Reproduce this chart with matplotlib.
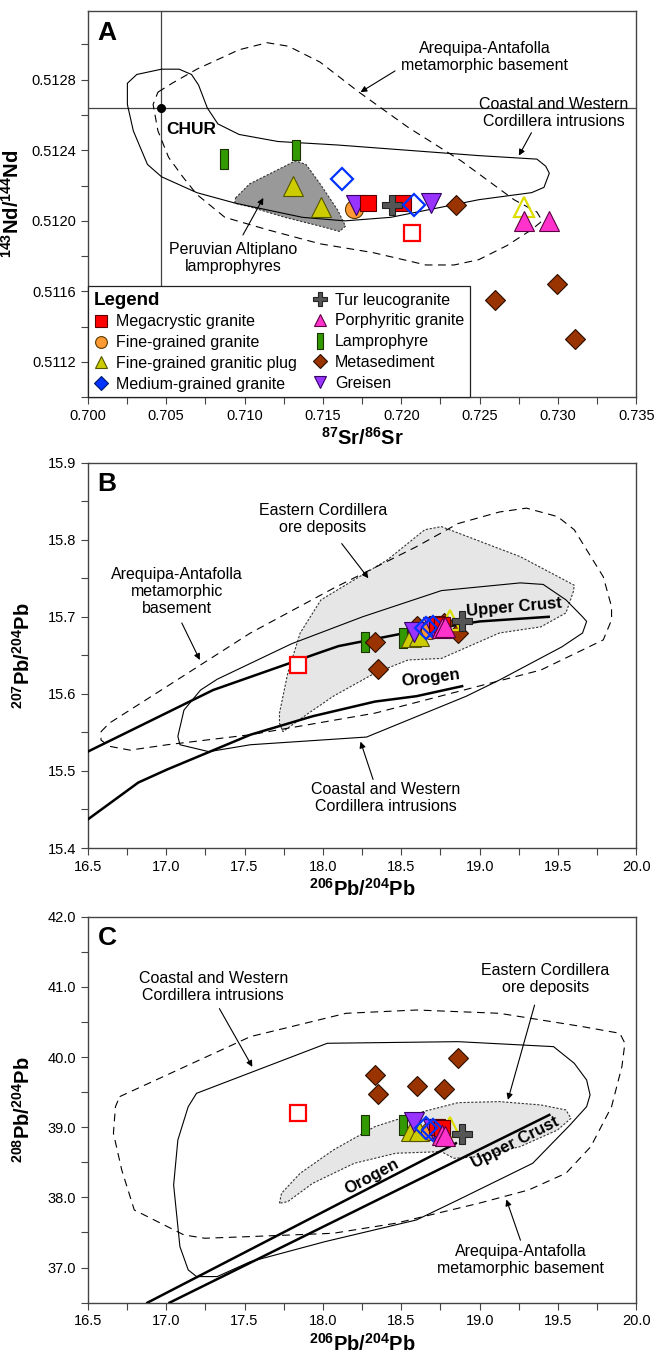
import matplotlib
matplotlib.use('Agg')
import matplotlib.pyplot as plt
from matplotlib.lines import Line2D
from matplotlib.patches import Polygon
import matplotlib.transforms as mtransforms
from matplotlib.ticker import MultipleLocator, FormatStrFormatter

plt.rcParams['font.family'] = ['Liberation Sans', 'DejaVu Sans']
plt.rcParams['mathtext.fontset'] = 'custom'
plt.rcParams['mathtext.rm'] = 'Liberation Sans'
plt.rcParams['mathtext.bf'] = 'Liberation Sans:bold'
plt.rcParams['mathtext.it'] = 'Liberation Sans:italic'

# ---- sample data (Sr-Nd and Pb isotopes) ----
mega_sr = [0.7179, 0.7201]
mega_nd = [0.51210, 0.51210]
mega_206 = [18.73, 18.76]
mega_207 = [15.691, 15.690]
mega_208 = [39.01, 38.99]

megaopen_sr = [0.7207]
megaopen_nd = [0.51193]
megaopen_206 = [17.84]
megaopen_207 = [15.638]
megaopen_208 = [39.20]

fine_sr = [0.7170]
fine_nd = [0.51207]
fine_206 = [18.68]
fine_207 = [15.683]
fine_208 = [38.94]

plug_sr = [0.7131, 0.7149]
plug_nd = [0.51220, 0.51208]
plug_206 = [18.56, 18.61]
plug_207 = [15.674, 15.675]
plug_208 = [38.94, 38.94]

plugopen_sr = [0.7278]
plugopen_nd = [0.51208]
plugopen_206 = [18.81]
plugopen_207 = [15.696]
plugopen_208 = [39.01]

medium_sr = [0.7162, 0.7208]
medium_nd = [0.51224, 0.51209]
medium_206 = [18.66, 18.70]
medium_207 = [15.685, 15.687]
medium_208 = [38.99, 38.96]

tur_sr = [0.7194]
tur_nd = [0.51209]
tur_206 = [18.89]
tur_207 = [15.694]
tur_208 = [38.90]

porph_sr = [0.7278, 0.7294]
porph_nd = [0.51200, 0.51200]
porph_206 = [18.76, 18.78]
porph_207 = [15.685, 15.687]
porph_208 = [38.89, 38.87]

lamp_sr = [0.7087, 0.7133]
lamp_nd = [0.51235, 0.51240]
lamp_206 = [18.27, 18.51]
lamp_207 = [15.667, 15.672]
lamp_208 = [39.03, 39.03]

meta_sr = [0.7235, 0.7260, 0.7299, 0.7311]
meta_nd = [0.51209, 0.51155, 0.51164, 0.51133]
meta_206 = [18.33, 18.35, 18.60, 18.77, 18.86]
meta_207 = [15.667, 15.632, 15.688, 15.692, 15.679]
meta_208 = [39.74, 39.48, 39.59, 39.54, 39.98]

greisen_sr = [0.7171, 0.7219]
greisen_nd = [0.51209, 0.51210]
greisen_206 = [18.58, 18.70]
greisen_207 = [15.680, 15.687]
greisen_208 = [39.07, 38.97]

chur_sr = 0.7047
chur_nd = 0.51264

# ---- field outlines ----
coastA_x = [0.70253, 0.70313, 0.70471, 0.70583, 0.70662, 0.70707, 0.70763, 0.70830, 0.70965, 0.71213,
            0.71595, 0.72044, 0.72494, 0.72865, 0.72921, 0.72944, 0.72910, 0.72831, 0.72494, 0.72157,
            0.71932, 0.71640, 0.71370, 0.70943, 0.70696, 0.70471, 0.70381, 0.70291, 0.70253]
coastA_y = [0.51278, 0.51283, 0.51286, 0.51286, 0.51283, 0.51277, 0.51264, 0.51255, 0.51249, 0.51245,
            0.51243, 0.51240, 0.51237, 0.51235, 0.51231, 0.51227, 0.51219, 0.51216, 0.51212, 0.51206,
            0.51202, 0.51200, 0.51202, 0.51210, 0.51216, 0.51225, 0.51232, 0.51251, 0.51266]
areqA_x = [0.70448, 0.70538, 0.70696, 0.70965, 0.71145, 0.71280, 0.71482, 0.71730, 0.72044, 0.72382,
           0.72719, 0.72865, 0.72899, 0.72831, 0.72674, 0.72494, 0.72337, 0.72157, 0.71820, 0.71482,
           0.71145, 0.70875, 0.70696, 0.70606, 0.70516, 0.70448, 0.70417]
areqA_y = [0.51273, 0.51278, 0.51286, 0.51297, 0.51301, 0.51299, 0.51290, 0.51273, 0.51253, 0.51234,
           0.51212, 0.51205, 0.51200, 0.51195, 0.51186, 0.51178, 0.51175, 0.51175, 0.51182, 0.51187,
           0.51195, 0.51202, 0.51215, 0.51225, 0.51236, 0.51251, 0.51266]
altiA_x = [0.70943, 0.71033, 0.71190, 0.71325, 0.71392, 0.71482, 0.71595, 0.71644, 0.71606, 0.71482,
           0.71258, 0.71033, 0.70938]
altiA_y = [0.51213, 0.51221, 0.51228, 0.51234, 0.51232, 0.51221, 0.51206, 0.51197, 0.51194, 0.51197,
           0.51202, 0.51208, 0.51210]

coastB_x = [17.326, 17.80, 18.253, 18.756, 19.259, 19.405, 19.550, 19.656, 19.682, 19.656, 19.524,
            19.126, 18.915, 18.279, 17.538, 17.273, 17.088, 17.075, 17.114, 17.220]
coastB_y = [15.619, 15.665, 15.700, 15.734, 15.744, 15.742, 15.722, 15.700, 15.694, 15.679, 15.661,
            15.618, 15.597, 15.544, 15.534, 15.525, 15.534, 15.545, 15.579, 15.605]
areqB_x = [16.585, 16.638, 17.008, 17.538, 18.067, 18.597, 18.862, 19.126, 19.298, 19.497, 19.603,
           19.788, 19.841, 19.841, 19.788, 19.391, 18.994, 18.332, 17.538, 17.008, 16.770, 16.638, 16.585]
areqB_y = [15.551, 15.562, 15.610, 15.679, 15.737, 15.791, 15.821, 15.836, 15.841, 15.830, 15.813,
           15.752, 15.713, 15.696, 15.670, 15.631, 15.610, 15.575, 15.547, 15.534, 15.527, 15.532, 15.540]
eastB_x = [17.723, 17.745, 17.909, 18.067, 18.332, 18.544, 18.756, 19.126, 19.391, 19.550, 19.598,
           19.603, 19.259, 18.756, 18.650, 18.412, 17.988, 17.855, 17.776, 17.723]
eastB_y = [15.562, 15.551, 15.575, 15.597, 15.627, 15.644, 15.646, 15.679, 15.687, 15.705, 15.733,
           15.741, 15.778, 15.817, 15.813, 15.774, 15.722, 15.679, 15.627, 15.575]
crustB_x = [16.5, 17.3, 18.0, 18.1, 18.5, 19.0, 19.44]
crustB_y = [15.525, 15.605, 15.655, 15.662, 15.678, 15.694, 15.700]
orogB_x = [16.5, 16.823, 17.008, 17.538, 17.935, 18.332, 18.597, 18.888]
orogB_y = [15.437, 15.485, 15.502, 15.547, 15.571, 15.590, 15.597, 15.610]

coastC_x = [17.194, 18.028, 18.862, 19.471, 19.603, 19.682, 19.704, 19.682, 19.576, 19.338, 18.862,
            18.597, 18.014, 17.538, 17.326, 17.194, 17.141, 17.088, 17.048, 17.075, 17.141]
coastC_y = [39.483, 40.196, 40.219, 40.148, 39.911, 39.673, 39.460, 39.293, 39.032, 38.486, 37.964,
            37.679, 37.370, 37.085, 36.872, 36.872, 36.967, 37.299, 38.177, 38.819, 39.293]
areqC_x = [16.704, 17.538, 18.147, 18.597, 19.126, 19.656, 19.894, 19.926, 19.907, 19.841, 19.709,
           19.550, 19.312, 18.994, 18.465, 18.067, 17.538, 17.247, 17.114, 16.797, 16.717, 16.664, 16.677]
areqC_y = [39.436, 40.291, 40.623, 40.670, 40.623, 40.433, 40.338, 40.196, 39.863, 39.293, 38.724,
           38.344, 38.106, 37.916, 37.632, 37.489, 37.442, 37.418, 37.465, 37.821, 38.391, 38.914, 39.293]
eastC_x = [17.723, 17.736, 17.855, 18.067, 18.332, 18.597, 18.862, 19.126, 19.391, 19.550, 19.582,
           19.497, 19.259, 18.994, 18.835, 18.756, 18.465, 18.200, 17.935, 17.776]
eastC_y = [37.916, 38.059, 38.344, 38.676, 39.009, 39.198, 39.350, 39.365, 39.317, 39.246, 39.127,
           38.961, 38.724, 38.581, 38.557, 38.652, 38.629, 38.486, 38.201, 37.940]
crustC_x = [17.022, 19.444]
crustC_y = [36.5, 39.175]
orogC_x = [16.881, 18.848]
orogC_y = [36.5, 38.771]

# ---- styles ----
bar = [(-0.18, -0.5), (0.18, -0.5), (0.18, 0.5), (-0.18, 0.5), (-0.18, -0.5)]
st_lamp = dict(marker=bar, ms=15, mfc='#339900', mec='#1a3300', mew=0.8)
st_meta = dict(marker='D', ms=10.5, mfc='#993300', mec='#2b0e00', mew=0.8)
st_plug = dict(marker='^', ms=14, mfc='#cccc00', mec='#555500', mew=0.8)
st_plugopen = dict(marker='^', ms=14, mfc='none', mec='#dddd00', mew=1.6)
st_fine = dict(marker='o', ms=13, mfc='#ff9933', mec='#5a3a00', mew=0.8)
st_greisen = dict(marker='v', ms=14, mfc='#9933ff', mec='#330066', mew=0.8)
st_mega = dict(marker='s', ms=11, mfc='#ff0000', mec='#5a0000', mew=0.8)
st_megaopen = dict(marker='s', ms=11, mfc='white', mec='#ff0000', mew=1.6)
st_tur = dict(marker='P', ms=15, mfc='#555555', mec='#222222', mew=0.8)
st_medium = dict(marker='D', ms=11.5, mfc='none', mec='#0033ff', mew=1.6)
st_porph = dict(marker='^', ms=14, mfc='#ff33cc', mec='#5a0040', mew=0.8)

groups = [
    (lamp_sr, lamp_nd, lamp_206, lamp_207, lamp_208, st_lamp),
    (meta_sr, meta_nd, meta_206, meta_207, meta_208, st_meta),
    (plug_sr, plug_nd, plug_206, plug_207, plug_208, st_plug),
    (plugopen_sr, plugopen_nd, plugopen_206, plugopen_207, plugopen_208, st_plugopen),
    (fine_sr, fine_nd, fine_206, fine_207, fine_208, st_fine),
    (greisen_sr, greisen_nd, greisen_206, greisen_207, greisen_208, st_greisen),
    (mega_sr, mega_nd, mega_206, mega_207, mega_208, st_mega),
    (megaopen_sr, megaopen_nd, megaopen_206, megaopen_207, megaopen_208, st_megaopen),
    (tur_sr, tur_nd, tur_206, tur_207, tur_208, st_tur),
    (medium_sr, medium_nd, medium_206, medium_207, medium_208, st_medium),
    (porph_sr, porph_nd, porph_206, porph_207, porph_208, st_porph),
]

FS = 11.5
ARROW = dict(arrowstyle='-|>', color='black', lw=0.8, mutation_scale=9, shrinkA=0, shrinkB=0)


def outline(ax, xs, ys, ls='-', fc='none', ec='black', dashes=None, z=1):
    p = Polygon(list(zip(xs, ys)), closed=True, fc=fc, ec=ec, lw=0.8, ls=ls, zorder=z)
    if dashes is not None:
        p.set_linestyle((0, dashes))
    ax.add_patch(p)


def style_axes(ax, letter):
    for s in ax.spines.values():
        s.set_color('#444444')
        s.set_linewidth(1.0)
    ax.tick_params(which='both', direction='out', top=False, right=False,
                   length=5, width=0.8, color='#444444', labelsize=10.5)
    ax.text(0.018, 0.975, letter, transform=ax.transAxes, fontsize=19,
            fontweight='bold', va='top', ha='left')


def note(ax, text, xy, tail, tip, **kw):
    ax.text(xy[0], xy[1], text, ha='center', va='center', fontsize=FS,
            linespacing=1.15, **kw)
    ax.annotate('', xy=tip, xytext=tail, arrowprops=ARROW)


fig = plt.figure(figsize=(6.58, 13.54), dpi=100)
L, W = 0.1333, 0.8340
axA = fig.add_axes([L, 0.7066, W, 0.2853])
axB = fig.add_axes([L, 0.3737, W, 0.2846])
axC = fig.add_axes([L, 0.0379, W, 0.2851])

# ---------- panel A ----------
outline(axA, altiA_x, altiA_y, fc='#999999', ec='#333333', dashes=(2, 1.5), z=1)
outline(axA, coastA_x, coastA_y, z=2)
outline(axA, areqA_x, areqA_y, dashes=(7, 5), z=2)
axA.axvline(chur_sr, color='#444444', lw=0.9, zorder=1)
axA.axhline(chur_nd, color='#444444', lw=0.9, zorder=1)
axA.plot([chur_sr], [chur_nd], 'o', ms=5.5, color='black', zorder=5)
axA.text(chur_sr + 0.0003, 0.51252, 'CHUR', fontsize=12.5, fontweight='bold', va='center')
for sr, nd, p6, p7, p8, st in groups:
    axA.plot(sr, nd, ls='none', zorder=6, **st)

note(axA, 'Arequipa-Antafolla\nmetamorphic basement', (0.7253, 0.51293),
     (0.7196, 0.51285), (0.7174, 0.51273))
note(axA, 'Coastal and Western\nCordillera intrusions', (0.7297, 0.51261),
     (0.7283, 0.51250), (0.7275, 0.51237))
note(axA, 'Peruvian Altiplano\nlamprophyres', (0.7093, 0.51179),
     (0.7099, 0.51192), (0.7112, 0.51213))

axA.set_xlim(0.700, 0.735)
axA.set_ylim(0.5110, 0.51319)
axA.xaxis.set_major_locator(MultipleLocator(0.005))
axA.xaxis.set_minor_locator(MultipleLocator(0.0025))
axA.yaxis.set_major_locator(MultipleLocator(0.0004))
axA.yaxis.set_minor_locator(MultipleLocator(0.0002))
axA.xaxis.set_major_formatter(FormatStrFormatter('%.3f'))
axA.yaxis.set_major_formatter(FormatStrFormatter('%.4f'))
axA.set_xlabel(r'$\mathbf{^{87}Sr/^{86}Sr}$', fontsize=14.5, labelpad=3)
axA.set_ylabel(r'$\mathbf{^{143}Nd/^{144}Nd}$', fontsize=14.5, labelpad=6)
style_axes(axA, 'A')

# legend
legend_labels = ['Legend', 'Megacrystic granite', 'Fine-grained granite', 'Fine-grained granitic plug',
                 'Medium-grained granite', 'Tur leucogranite', 'Porphyritic granite', 'Lamprophyre',
                 'Metasediment', 'Greisen']
leg_styles = [None,
              dict(marker='s', ms=8, mfc='#ff0000', mec='#5a0000'),
              dict(marker='o', ms=8.5, mfc='#ff9933', mec='#5a3a00'),
              dict(marker='^', ms=9, mfc='#cccc00', mec='#555500'),
              dict(marker='D', ms=7, mfc='#0033ff', mec='#001a66'),
              dict(marker='P', ms=10, mfc='#555555', mec='#222222'),
              dict(marker='^', ms=9, mfc='#ff33cc', mec='#5a0040'),
              dict(marker=bar, ms=11, mfc='#339900', mec='#1a3300'),
              dict(marker='D', ms=7, mfc='#993300', mec='#2b0e00'),
              dict(marker='v', ms=9, mfc='#9933ff', mec='#330066')]
handles = []
for s in leg_styles:
    if s is None:
        handles.append(Line2D([], [], ls='none'))
    else:
        handles.append(Line2D([], [], ls='none', mew=0.8, **s))
leg = axA.legend(handles, legend_labels, ncol=2, loc='lower left', bbox_to_anchor=(0.0, 0.0),
                 borderaxespad=0, fontsize=FS, frameon=True, fancybox=False, framealpha=1,
                 edgecolor='#222222', handlelength=1.0, handletextpad=0.45, labelspacing=0.36,
                 columnspacing=0.9, borderpad=0.35)
leg.get_frame().set_linewidth(0.9)
leg.set_zorder(10)
t0 = leg.get_texts()[0]
t0.set_fontweight('bold')
t0.set_fontsize(13.5)
t0.set_transform(t0.get_transform() +
                 mtransforms.ScaledTranslation(-(1.0 + 0.45) * FS / 72.0, 0, fig.dpi_scale_trans))

# ---------- panel B ----------
outline(axB, eastB_x, eastB_y, fc='#e6e6e6', ec='#333333', dashes=(2, 1.5), z=1)
outline(axB, coastB_x, coastB_y, z=2)
outline(axB, areqB_x, areqB_y, dashes=(7, 5), z=2)
axB.plot(crustB_x, crustB_y, color='black', lw=1.8, zorder=3)
axB.plot(orogB_x, orogB_y, color='black', lw=1.8, zorder=3)
for sr, nd, p6, p7, p8, st in groups:
    axB.plot(p6, p7, ls='none', zorder=6, **st)
axB.text(19.22, 15.712, 'Upper Crust', fontsize=12, fontweight='bold', ha='center',
         va='center', rotation=5, zorder=7)
axB.text(18.69, 15.621, 'Orogen', fontsize=12, fontweight='bold', ha='center',
         va='center', rotation=7, zorder=7)
note(axB, 'Eastern Cordillera\nore deposits', (18.0, 15.827), (18.12, 15.795), (18.29, 15.750))
note(axB, 'Arequipa-Antafolla\nmetamorphic\nbasement', (17.067, 15.733), (17.10, 15.692),
     (17.215, 15.644))
note(axB, 'Coastal and Western\nCordillera intrusions', (18.40, 15.465), (18.32, 15.489),
     (18.24, 15.538))
axB.set_xlim(16.5, 20.0)
axB.set_ylim(15.4, 15.9)
axB.xaxis.set_major_locator(MultipleLocator(0.5))
axB.xaxis.set_minor_locator(MultipleLocator(0.25))
axB.yaxis.set_major_locator(MultipleLocator(0.1))
axB.yaxis.set_minor_locator(MultipleLocator(0.05))
axB.xaxis.set_major_formatter(FormatStrFormatter('%.1f'))
axB.yaxis.set_major_formatter(FormatStrFormatter('%.1f'))
axB.set_xlabel(r'$\mathbf{^{206}Pb/^{204}Pb}$', fontsize=14.5, labelpad=3)
axB.set_ylabel(r'$\mathbf{^{207}Pb/^{204}Pb}$', fontsize=14.5, labelpad=10)
style_axes(axB, 'B')

# ---------- panel C ----------
outline(axC, eastC_x, eastC_y, fc='#e6e6e6', ec='#333333', dashes=(2, 1.5), z=1)
outline(axC, coastC_x, coastC_y, z=2)
outline(axC, areqC_x, areqC_y, dashes=(7, 5), z=2)
axC.plot(crustC_x, crustC_y, color='black', lw=1.8, zorder=3)
axC.plot(orogC_x, orogC_y, color='black', lw=1.8, zorder=3)
for sr, nd, p6, p7, p8, st in groups:
    axC.plot(p6, p8, ls='none', zorder=6, **st)
axC.text(18.31, 38.30, 'Orogen', fontsize=12, fontweight='bold', ha='center',
         va='center', rotation=28, zorder=7)
axC.text(19.23, 38.78, 'Upper Crust', fontsize=12, fontweight='bold', ha='center',
         va='center', rotation=27, zorder=7)
note(axC, 'Coastal and Western\nCordillera intrusions', (17.30, 41.0), (17.34, 40.69),
     (17.55, 39.86))
note(axC, 'Eastern Cordillera\nore deposits', (19.42, 41.11), (19.35, 40.74), (19.18, 39.39))
note(axC, 'Arequipa-Antafolla\nmetamorphic basement', (19.26, 37.11), (19.26, 37.39),
     (19.17, 37.97))
axC.set_xlim(16.5, 20.0)
axC.set_ylim(36.5, 42.0)
axC.xaxis.set_major_locator(MultipleLocator(0.5))
axC.xaxis.set_minor_locator(MultipleLocator(0.25))
axC.yaxis.set_major_locator(MultipleLocator(1.0))
axC.yaxis.set_minor_locator(MultipleLocator(0.5))
axC.xaxis.set_major_formatter(FormatStrFormatter('%.1f'))
axC.yaxis.set_major_formatter(FormatStrFormatter('%.1f'))
axC.set_xlabel(r'$\mathbf{^{206}Pb/^{204}Pb}$', fontsize=14.5, labelpad=3)
axC.set_ylabel(r'$\mathbf{^{208}Pb/^{204}Pb}$', fontsize=14.5, labelpad=10)
style_axes(axC, 'C')

fig.savefig('out.png', dpi=100)
